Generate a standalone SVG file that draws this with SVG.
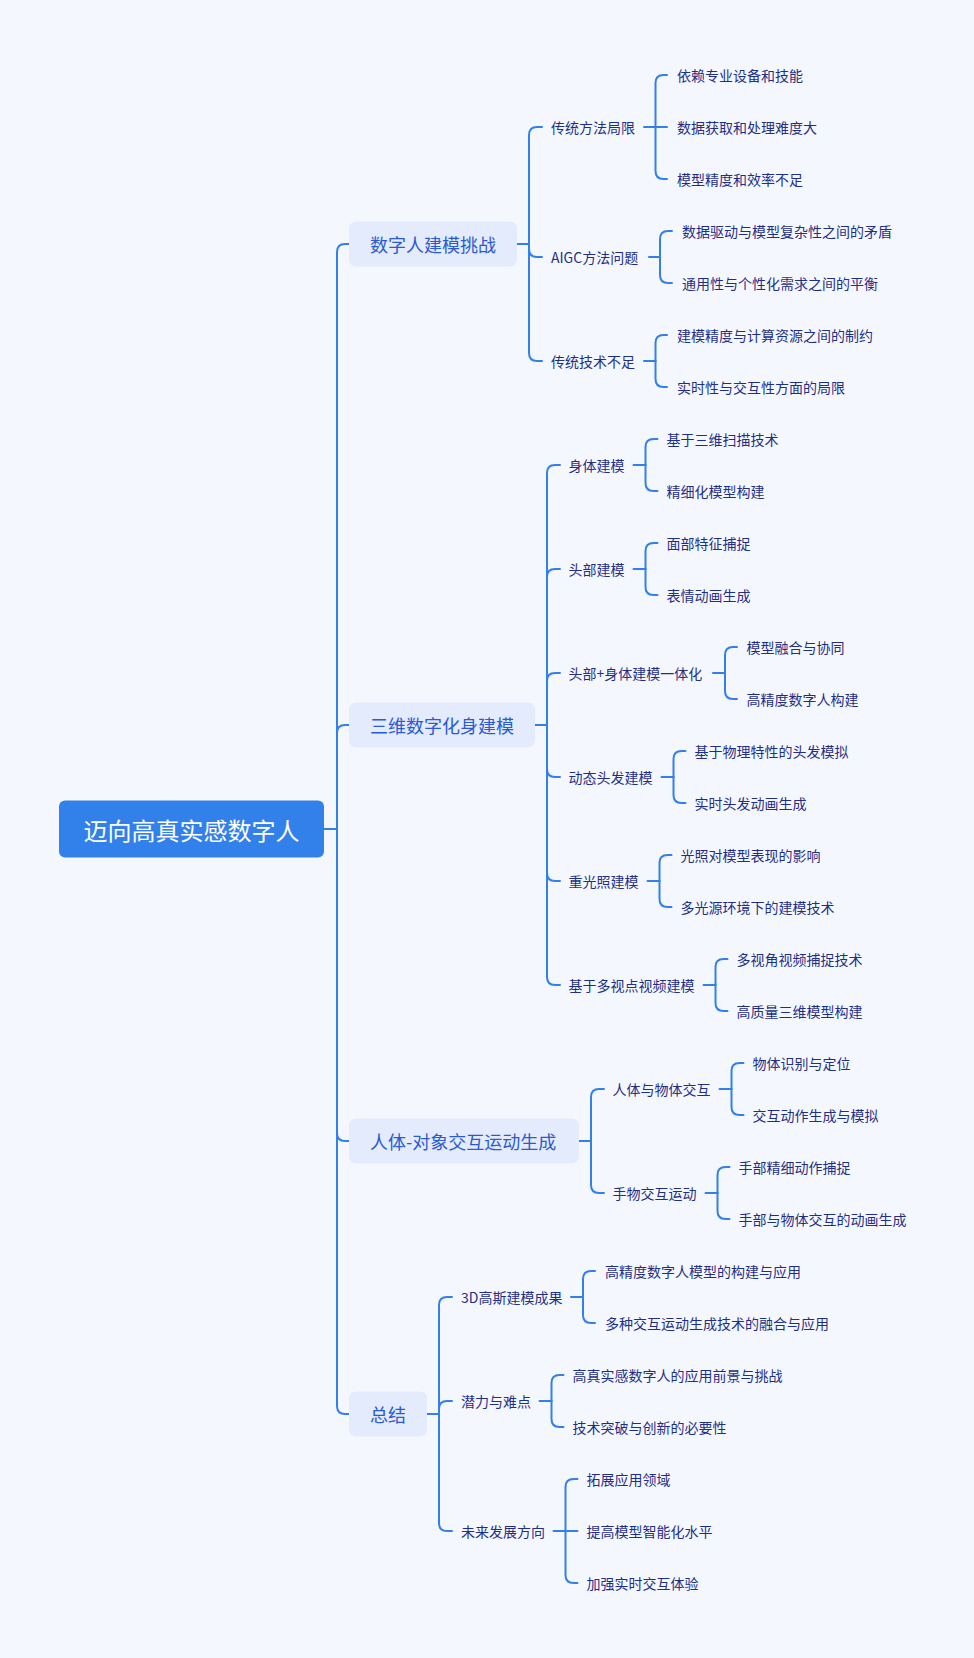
<svg xmlns="http://www.w3.org/2000/svg" width="974" height="1658" viewBox="0 0 974 1658">
<style>
text{font-family:"Noto Sans CJK SC","Noto Sans",sans-serif;dominant-baseline:central}
.root{fill:#3281EA}
.rt{fill:#FFFFFF;font-size:24px;text-anchor:middle}
.b1{fill:#E4EBFC}
.t1{fill:#2A5AD4;font-size:18px}
.t2{fill:#1F2F86;font-size:14px}
.t3{fill:#1F2F86;font-size:14px}
#connectors path{fill:none;stroke:#3380EC;stroke-width:2;stroke-linecap:round;stroke-linejoin:round}
</style>
<rect width="974" height="1658" fill="#F5F7FE"/>
<g id="connectors">
<path d="M324,829 H337"/>
<path d="M337,829 V252 Q337,244 345,244 H349"/>
<path d="M337,829 V733 Q337,725 345,725 H349"/>
<path d="M337,829 V1133 Q337,1141 345,1141 H349"/>
<path d="M337,829 V1406 Q337,1414 345,1414 H349"/>
<!-- S1 -->
<path d="M517,244 H529"/>
<path d="M529,244 V135 Q529,127 537,127 H542"/>
<path d="M529,244 V249 Q529,257 537,257 H542"/>
<path d="M529,244 V353 Q529,361 537,361 H542"/>
<path d="M644,127 H655.5"/>
<path d="M655.5,127 V83 Q655.5,75 663.5,75 H667"/>
<path d="M655.5,127 H667"/>
<path d="M655.5,127 V171 Q655.5,179 663.5,179 H667"/>
<path d="M649,257 H660"/>
<path d="M660,257 V239 Q660,231 668,231 H672"/>
<path d="M660,257 V275 Q660,283 668,283 H672"/>
<path d="M644,361 H655.5"/>
<path d="M655.5,361 V343 Q655.5,335 663.5,335 H667"/>
<path d="M655.5,361 V379 Q655.5,387 663.5,387 H667"/>
<!-- S2 -->
<path d="M535,725 H547"/>
<path d="M547,725 V473 Q547,465 555,465 H560"/>
<path d="M547,725 V577 Q547,569 555,569 H560"/>
<path d="M547,725 V681 Q547,673 555,673 H560"/>
<path d="M547,725 V769 Q547,777 555,777 H560"/>
<path d="M547,725 V873 Q547,881 555,881 H560"/>
<path d="M547,725 V977 Q547,985 555,985 H560"/>
<path d="M633.5,465 H645.5"/>
<path d="M645.5,465 V447 Q645.5,439 653.5,439 H657.5"/>
<path d="M645.5,465 V483 Q645.5,491 653.5,491 H657.5"/>
<path d="M633.5,569 H645.5"/>
<path d="M645.5,569 V551 Q645.5,543 653.5,543 H657.5"/>
<path d="M645.5,569 V587 Q645.5,595 653.5,595 H657.5"/>
<path d="M713,673 H725"/>
<path d="M725,673 V655 Q725,647 733,647 H737"/>
<path d="M725,673 V691 Q725,699 733,699 H737"/>
<path d="M661.5,777 H673.5"/>
<path d="M673.5,777 V759 Q673.5,751 681.5,751 H685.5"/>
<path d="M673.5,777 V795 Q673.5,803 681.5,803 H685.5"/>
<path d="M647.5,881 H659.5"/>
<path d="M659.5,881 V863 Q659.5,855 667.5,855 H671.5"/>
<path d="M659.5,881 V899 Q659.5,907 667.5,907 H671.5"/>
<path d="M703.5,985 H715.5"/>
<path d="M715.5,985 V967 Q715.5,959 723.5,959 H727.5"/>
<path d="M715.5,985 V1003 Q715.5,1011 723.5,1011 H727.5"/>
<!-- S3 -->
<path d="M579,1141 H591"/>
<path d="M591,1141 V1097 Q591,1089 599,1089 H604"/>
<path d="M591,1141 V1185 Q591,1193 599,1193 H604"/>
<path d="M719.5,1089 H731.5"/>
<path d="M731.5,1089 V1071 Q731.5,1063 739.5,1063 H743.5"/>
<path d="M731.5,1089 V1107 Q731.5,1115 739.5,1115 H743.5"/>
<path d="M705.5,1193 H717.5"/>
<path d="M717.5,1193 V1175 Q717.5,1167 725.5,1167 H729.5"/>
<path d="M717.5,1193 V1211 Q717.5,1219 725.5,1219 H729.5"/>
<!-- S4 -->
<path d="M427,1414 H439"/>
<path d="M439,1414 V1305 Q439,1297 447,1297 H452"/>
<path d="M439,1414 V1409 Q439,1401 447,1401 H452"/>
<path d="M439,1414 V1523 Q439,1531 447,1531 H452"/>
<path d="M571,1297 H583"/>
<path d="M583,1297 V1279 Q583,1271 591,1271 H595"/>
<path d="M583,1297 V1315 Q583,1323 591,1323 H595"/>
<path d="M539.5,1401 H551.5"/>
<path d="M551.5,1401 V1383 Q551.5,1375 559.5,1375 H563.5"/>
<path d="M551.5,1401 V1419 Q551.5,1427 559.5,1427 H563.5"/>
<path d="M553.5,1531 H565.5"/>
<path d="M565.5,1531 V1487 Q565.5,1479 573.5,1479 H577.5"/>
<path d="M565.5,1531 H577.5"/>
<path d="M565.5,1531 V1575 Q565.5,1583 573.5,1583 H577.5"/>
</g>
<g id="root"><rect class="root" x="59" y="800.5" width="265" height="57" rx="6"/><text class="rt" x="191.5" y="829">迈向高真实感数字人</text></g>
<g id="n1"><rect class="b1" x="349" y="221.5" width="168" height="45" rx="7"/><text class="t1" x="370" y="244">数字人建模挑战</text></g>
<g id="n2"><rect class="b1" x="349" y="702.5" width="186" height="45" rx="7"/><text class="t1" x="370" y="725">三维数字化身建模</text></g>
<g id="n3"><rect class="b1" x="349" y="1118.5" width="230" height="45" rx="7"/><text class="t1" x="370" y="1141">人体-对象交互运动生成</text></g>
<g id="n4"><rect class="b1" x="349" y="1391.5" width="78" height="45" rx="7"/><text class="t1" x="370" y="1414">总结</text></g>
<g id="n1a"><text class="t2" x="551" y="127">传统方法局限</text></g>
<g id="n1b"><text class="t2" x="551" y="257">AIGC方法问题</text></g>
<g id="n1c"><text class="t2" x="551" y="361">传统技术不足</text></g>
<g id="n2a"><text class="t2" x="568.5" y="465">身体建模</text></g>
<g id="n2b"><text class="t2" x="568.5" y="569">头部建模</text></g>
<g id="n2c"><text class="t2" x="568.5" y="673">头部+身体建模一体化</text></g>
<g id="n2d"><text class="t2" x="568.5" y="777">动态头发建模</text></g>
<g id="n2e"><text class="t2" x="568.5" y="881">重光照建模</text></g>
<g id="n2f"><text class="t2" x="568.5" y="985">基于多视点视频建模</text></g>
<g id="n3a"><text class="t2" x="612.5" y="1089">人体与物体交互</text></g>
<g id="n3b"><text class="t2" x="612.5" y="1193">手物交互运动</text></g>
<g id="n4a"><text class="t2" x="461" y="1297">3D高斯建模成果</text></g>
<g id="n4b"><text class="t2" x="461" y="1401">潜力与难点</text></g>
<g id="n4c"><text class="t2" x="461" y="1531">未来发展方向</text></g>
<g id="l0"><text class="t3" x="677" y="75">依赖专业设备和技能</text></g>
<g id="l1"><text class="t3" x="677" y="127">数据获取和处理难度大</text></g>
<g id="l2"><text class="t3" x="677" y="179">模型精度和效率不足</text></g>
<g id="l3"><text class="t3" x="682" y="231">数据驱动与模型复杂性之间的矛盾</text></g>
<g id="l4"><text class="t3" x="682" y="283">通用性与个性化需求之间的平衡</text></g>
<g id="l5"><text class="t3" x="677" y="335">建模精度与计算资源之间的制约</text></g>
<g id="l6"><text class="t3" x="677" y="387">实时性与交互性方面的局限</text></g>
<g id="l7"><text class="t3" x="666.5" y="439">基于三维扫描技术</text></g>
<g id="l8"><text class="t3" x="666.5" y="491">精细化模型构建</text></g>
<g id="l9"><text class="t3" x="666.5" y="543">面部特征捕捉</text></g>
<g id="l10"><text class="t3" x="666.5" y="595">表情动画生成</text></g>
<g id="l11"><text class="t3" x="746.5" y="647">模型融合与协同</text></g>
<g id="l12"><text class="t3" x="746.5" y="699">高精度数字人构建</text></g>
<g id="l13"><text class="t3" x="694.5" y="751">基于物理特性的头发模拟</text></g>
<g id="l14"><text class="t3" x="694.5" y="803">实时头发动画生成</text></g>
<g id="l15"><text class="t3" x="680.5" y="855">光照对模型表现的影响</text></g>
<g id="l16"><text class="t3" x="680.5" y="907">多光源环境下的建模技术</text></g>
<g id="l17"><text class="t3" x="736.5" y="959">多视角视频捕捉技术</text></g>
<g id="l18"><text class="t3" x="736.5" y="1011">高质量三维模型构建</text></g>
<g id="l19"><text class="t3" x="752.5" y="1063">物体识别与定位</text></g>
<g id="l20"><text class="t3" x="752.5" y="1115">交互动作生成与模拟</text></g>
<g id="l21"><text class="t3" x="738.5" y="1167">手部精细动作捕捉</text></g>
<g id="l22"><text class="t3" x="738.5" y="1219">手部与物体交互的动画生成</text></g>
<g id="l23"><text class="t3" x="605" y="1271">高精度数字人模型的构建与应用</text></g>
<g id="l24"><text class="t3" x="605" y="1323">多种交互运动生成技术的融合与应用</text></g>
<g id="l25"><text class="t3" x="572.5" y="1375">高真实感数字人的应用前景与挑战</text></g>
<g id="l26"><text class="t3" x="572.5" y="1427">技术突破与创新的必要性</text></g>
<g id="l27"><text class="t3" x="586.5" y="1479">拓展应用领域</text></g>
<g id="l28"><text class="t3" x="586.5" y="1531">提高模型智能化水平</text></g>
<g id="l29"><text class="t3" x="586.5" y="1583">加强实时交互体验</text></g>
</svg>
